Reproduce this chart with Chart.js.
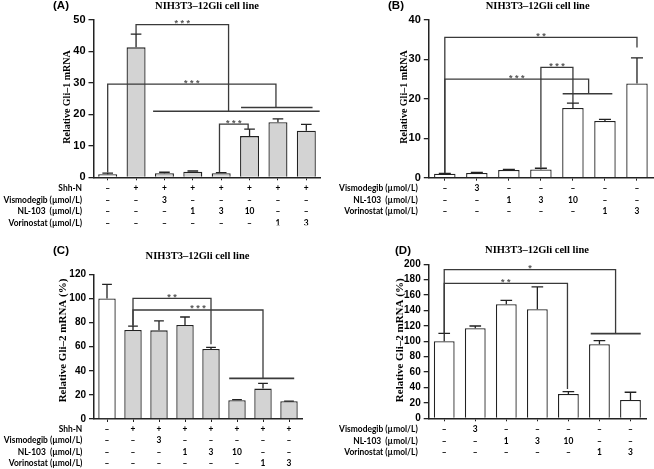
<!DOCTYPE html>
<html><head><meta charset="utf-8">
<script src="https://cdn.jsdelivr.net/npm/chart.js@4/dist/chart.umd.min.js"></script>
<style>
html,body{margin:0;padding:0;background:#fff;}
body{width:654px;height:469px;position:relative;overflow:hidden;}
canvas{position:absolute;display:block;}
</style></head><body>
<canvas id="cA" width="327" height="235" style="left:0;top:0;width:327px;height:235px"></canvas>
<canvas id="cB" width="327" height="235" style="left:327px;top:0;width:327px;height:235px"></canvas>
<canvas id="cC" width="327" height="234" style="left:0;top:235px;width:327px;height:234px"></canvas>
<canvas id="cD" width="327" height="234" style="left:327px;top:235px;width:327px;height:234px"></canvas>
<script>
// ---------- DATA ----------
const chartTitle = 'NIH3T3\u201312Gli cell line';
const rowNamesAC = ['Shh-N', 'Vismodegib (\u00b5mol/L)', 'NL-103  (\u00b5mol/L)', 'Vorinostat (\u00b5mol/L)'];
const rowNamesBD = ['Vismodegib (\u00b5mol/L)', 'NL-103  (\u00b5mol/L)', 'Vorinostat (\u00b5mol/L)'];

// panels A and C (8 groups)
const shh8   = ['\u2013','+','+','+','+','+','+','+'];
const vismo8 = ['\u2013','\u2013','3','\u2013','\u2013','\u2013','\u2013','\u2013'];
const nl8    = ['\u2013','\u2013','\u2013','1','3','10','\u2013','\u2013'];
const vor8   = ['\u2013','\u2013','\u2013','\u2013','\u2013','\u2013','1','3'];
// panels B and D (7 groups)
const vismo7 = ['\u2013','3','\u2013','\u2013','\u2013','\u2013','\u2013'];
const nl7    = ['\u2013','\u2013','1','3','10','\u2013','\u2013'];
const vor7   = ['\u2013','\u2013','\u2013','\u2013','\u2013','1','3'];

const gli1A    = [1.0, 41.3, 1.3, 1.8, 1.3, 13.1, 17.5, 14.8];
const gli1AErr = [0.3, 4.2, 0.3, 0.2, 0.2, 2.2, 1.1, 2.0];
const gli1B    = [1.0, 1.2, 1.95, 2.1, 17.7, 14.4, 23.9];
const gli1BErr = [0.1, 0.15, 0.15, 0.3, 1.2, 0.4, 6.5];
const gli2C    = [100, 73.8, 73.5, 78.0, 58.1, 15.5, 25.2, 14.7];
const gli2CErr = [11.7, 3.3, 7.8, 6.6, 1.3, 0.5, 4.4, 0.2];
const gli2D    = [100, 116.9, 148.1, 141.6, 31.6, 96.1, 23.8];
const gli2DErr = [10.4, 3.0, 5.1, 29.0, 3.0, 4.8, 10.0];

// significance brackets (category index / value units)
const sigA = [
  {from:1, to:4.26, y:48.5, fromTop:45.5, toTop:21.0, text:'***'},
  {from:0, to:5.93, y:29.6, fromTop:1.5, toTop:22.2, text:'***'},
  {from:3.94, to:4.95, y:16.9, fromTop:1.7, toTop:15.3, text:'***'}
];
const groupLinesA = [{from:1.6, to:7.47, y:21.0}, {from:4.70, to:7.22, y:22.2}];
const sigB = [
  {from:0, to:6, y:35.6, fromTop:1.2, toTop:33.0, text:'**'},
  {from:0, to:4.49, y:25.0, fromTop:1.2, toTop:21.3, text:'***'},
  {from:3, to:4, y:28.0, fromTop:2.5, toTop:18.9, text:'***'}
];
const groupLinesB = [{from:3.68, to:5.23, y:21.3}];
const sigC = [
  {from:1, to:4, y:100, fromTop:77.3, toTop:62, text:'**'},
  {from:1, to:6, y:90.4, fromTop:77.3, toTop:33.7, text:'***'}
];
const groupLinesC = [{from:4.7, to:7.2, y:33.7}];
const sigD = [
  {from:0, to:5.52, y:193.1, fromTop:110.6, toTop:110, text:'*'},
  {from:0, to:3.97, y:175.3, fromTop:110.6, toTop:38, text:'**'}
];
const groupLinesD = [{from:4.72, to:6.33, y:110}];

// ---------- DRAWING ----------
const SANS = "'Liberation Sans', Arial, sans-serif";
const SERIF = "'Liberation Serif', 'Times New Roman', serif";
const TABLE = "Lato, 'Liberation Sans', sans-serif";
const INK = '#222';

// size the table font so that the longest row name is ~73px wide (as in the figure)
const tableSize = (() => {
  const c = document.createElement('canvas').getContext('2d');
  c.font = 'bold 10px ' + TABLE;
  const w = c.measureText('Vorinostat (\u00b5mol/L)').width;
  return Math.max(8, Math.min(10.5, 10 * 73.5 / w));
})();

function makeLabels(rows) {
  return rows[0].map((_, i) => rows.map(r => r[i]));
}

function makeAnnot(cfg) {
  return {
    id: 'annot',
    afterDatasetsDraw(chart) {
      const ctx = chart.ctx, xs = chart.scales.x, ys = chart.scales.y;
      const meta = chart.getDatasetMeta(0);
      const vals = chart.data.datasets[0].data;
      ctx.save();
      ctx.strokeStyle = INK; ctx.lineWidth = 1.3;
      meta.data.forEach((bar, i) => {
        const top = ys.getPixelForValue(vals[i] + cfg.errors[i]);
        const half = bar.width * 0.28;
        ctx.beginPath();
        ctx.moveTo(bar.x, bar.y); ctx.lineTo(bar.x, top);
        ctx.moveTo(bar.x - half, top); ctx.lineTo(bar.x + half, top);
        ctx.stroke();
      });
      // brackets
      ctx.strokeStyle = '#3a3a3a'; ctx.lineWidth = 1.3;
      cfg.sig.forEach(s => {
        const x1 = xs.getPixelForValue(s.from), x2 = xs.getPixelForValue(s.to);
        const yy = ys.getPixelForValue(s.y);
        ctx.beginPath();
        ctx.moveTo(x1, ys.getPixelForValue(s.fromTop));
        ctx.lineTo(x1, yy); ctx.lineTo(x2, yy);
        ctx.lineTo(x2, ys.getPixelForValue(s.toTop));
        ctx.stroke();
      });
      ctx.lineWidth = 1.6;
      cfg.lines.forEach(l => {
        const yy = ys.getPixelForValue(l.y);
        ctx.beginPath();
        ctx.moveTo(xs.getPixelForValue(l.from), yy);
        ctx.lineTo(xs.getPixelForValue(l.to), yy);
        ctx.stroke();
      });
      ctx.fillStyle = '#555';
      ctx.font = 'bold 9px ' + SANS;
      ctx.textAlign = 'center'; ctx.textBaseline = 'alphabetic';
      cfg.sig.forEach(s => {
        const cx = (xs.getPixelForValue(s.from) + xs.getPixelForValue(s.to)) / 2;
        const yy = ys.getPixelForValue(s.y);
        ctx.fillText(s.text.split('').join(' '), cx, yy + 1.5);
      });
      ctx.restore();
    },
    afterDraw(chart) {
      const ctx = chart.ctx, xs = chart.scales.x;
      ctx.save();
      ctx.fillStyle = '#000';
      // panel letter
      ctx.font = 'bold 11.5px ' + SANS;
      ctx.textAlign = 'left'; ctx.textBaseline = 'middle';
      ctx.fillText(cfg.letter, cfg.letterX, cfg.letterY);
      // title
      ctx.font = 'bold 10.5px ' + SERIF;
      ctx.textAlign = 'center';
      ctx.fillText(chartTitle, cfg.titleX, cfg.titleY);
      // y-axis title
      ctx.save();
      ctx.translate(cfg.yTitleX, cfg.yTitleY);
      ctx.rotate(-Math.PI / 2);
      ctx.font = 'bold ' + cfg.yTitleSize + 'px ' + SERIF;
      ctx.fillText(cfg.yTitle, 0, 0);
      ctx.restore();
      // row names of the treatment table
      ctx.font = 'bold ' + tableSize + 'px ' + TABLE;
      ctx.textAlign = 'right';
      const y0 = xs.top + 3 + cfg.tickPad;
      cfg.rowNames.forEach((n, i) => {
        ctx.fillText(n, cfg.rowX, y0 + cfg.lh * (i + 0.5));
      });
      ctx.restore();
    }
  };
}

function buildChart(id, cfg) {
  const canvas = document.getElementById(id);
  const W = canvas.width, H = canvas.height;
  const Wy = 40, Hx = 48;
  const a = cfg.area;
  return new Chart(canvas, {
    type: 'bar',
    data: {
      labels: makeLabels(cfg.rows),
      datasets: [{
        data: cfg.values,
        backgroundColor: cfg.fills,
        borderColor: INK,
        borderWidth: 1.3,
        barPercentage: 0.67,
        categoryPercentage: 1.0
      }]
    },
    options: {
      responsive: false,
      animation: false,
      events: [],
      layout: { padding: { left: a.L - Wy, right: W - a.R, top: a.T, bottom: H - a.B - Hx } },
      plugins: { legend: { display: false }, tooltip: { enabled: false }, title: { display: false } },
      scales: {
        x: {
          offset: true,
          afterFit: s => { s.height = Hx; },
          grid: { display: true, offset: false, drawOnChartArea: false, drawTicks: true, tickLength: 3, color: INK, lineWidth: 1 },
          border: { display: true, color: INK, width: 1.5 },
          ticks: {
            autoSkip: false, maxRotation: 0, minRotation: 0, padding: cfg.tickPad, color: '#000',
            font: { family: TABLE, size: tableSize, weight: 'bold', lineHeight: cfg.lh / tableSize }
          }
        },
        y: {
          min: 0, max: cfg.yMax,
          afterFit: s => { s.width = Wy; },
          grid: { display: true, drawOnChartArea: false, drawTicks: true, tickLength: 5, color: INK, lineWidth: 1.3 },
          border: { display: true, color: INK, width: 1.5 },
          ticks: { stepSize: cfg.yStep, padding: 3, color: '#000', font: { family: SANS, size: cfg.tickSize, weight: 'bold' } }
        }
      }
    },
    plugins: [makeAnnot(cfg)]
  });
}

const GREY = '#d3d3d3', WHITE = '#ffffff';

buildChart('cA', {
  rows: [shh8, vismo8, nl8, vor8], rowNames: rowNamesAC,
  values: gli1A, errors: gli1AErr, sig: sigA, lines: groupLinesA,
  fills: gli1A.map((_, i) => i === 0 ? WHITE : GREY),
  yMax: 50, yStep: 10, tickSize: 11,
  area: { L: 93.5, R: 320.5, T: 20, B: 177.3 },
  tickPad: 2.25, lh: 11.5,
  letter: '(A)', letterX: 53, letterY: 6,
  titleX: 207, titleY: 6.5,
  yTitle: 'Relative Gli\u20131 mRNA', yTitleX: 67, yTitleY: 97, yTitleSize: 10,
  rowX: 82
});
buildChart('cB', {
  rows: [vismo7, nl7, vor7], rowNames: rowNamesBD,
  values: gli1B, errors: gli1BErr, sig: sigB, lines: groupLinesB,
  fills: gli1B.map(() => WHITE),
  yMax: 40, yStep: 10, tickSize: 11,
  area: { L: 101.8, R: 326, T: 20, B: 177.7 },
  tickPad: 2.25, lh: 11.5,
  letter: '(B)', letterX: 61, letterY: 6,
  titleX: 210.7, titleY: 6.5,
  yTitle: 'Relative Gli\u20131 mRNA', yTitleX: 77.3, yTitleY: 97, yTitleSize: 10,
  rowX: 90.7
});
buildChart('cC', {
  rows: [shh8, vismo8, nl8, vor8], rowNames: rowNamesAC,
  values: gli2C, errors: gli2CErr, sig: sigC, lines: groupLinesC,
  fills: gli2C.map((_, i) => i === 0 ? WHITE : GREY),
  yMax: 120, yStep: 20, tickSize: 10,
  area: { L: 94, R: 302, T: 39.3, B: 184 },
  tickPad: 1.65, lh: 11.3,
  letter: '(C)', letterX: 53, letterY: 15.7,
  titleX: 197.5, titleY: 21.7,
  yTitle: 'Relative Gli\u20132 mRNA (%)', yTitleX: 63.3, yTitleY: 105.5, yTitleSize: 11,
  rowX: 82.3
});
buildChart('cD', {
  rows: [vismo7, nl7, vor7], rowNames: rowNamesBD,
  values: gli2D, errors: gli2DErr, sig: sigD, lines: groupLinesD,
  fills: gli2D.map(() => WHITE),
  yMax: 200, yStep: 20, tickSize: 10,
  area: { L: 101.7, R: 319, T: 29.3, B: 183.3 },
  tickPad: 2.15, lh: 11.7,
  letter: '(D)', letterX: 68, letterY: 15.7,
  titleX: 210, titleY: 15.7,
  yTitle: 'Relative Gli\u20132 mRNA (%)', yTitleX: 72.7, yTitleY: 105.3, yTitleSize: 11,
  rowX: 90.7
});
</script>
</body></html>
